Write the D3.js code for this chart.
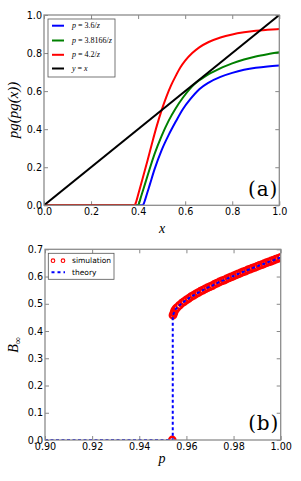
<!DOCTYPE html>
<html>
<head>
<meta charset="utf-8">
<script src="https://cdn.jsdelivr.net/npm/d3@7"></script>
<style>
  body { margin: 0; background: #fff; }
  svg { display: block; }
  .tick text { font-family: 'DejaVu Sans', sans-serif; font-size: 9.6px; fill: #000; }
  .tick line { stroke: #888; stroke-width: 1; }
  .domain { display: none; }
</style>
</head>
<body>
<div id="chart"></div>
<script>
// panel (a) ticks
const xTicksA = [0, 0.2, 0.4, 0.6, 0.8, 1.0]
const yTicksA = [0, 0.2, 0.4, 0.6, 0.8, 1.0]

// panel (a) curves
const blueX = [0, 0.42, 0.425, 0.43, 0.44, 0.45, 0.47, 0.50, 0.53, 0.56, 0.59, 0.62, 0.66, 0.70, 0.75, 0.80, 0.85, 0.90, 0.95, 1.00]
const blueY = [0, 0, 0.012, 0.03, 0.07, 0.11, 0.19, 0.29, 0.37, 0.44, 0.505, 0.555, 0.61, 0.645, 0.675, 0.696, 0.712, 0.723, 0.730, 0.734]

const greenX = [0, 0.40, 0.405, 0.41, 0.42, 0.43, 0.44, 0.45, 0.47, 0.50, 0.53, 0.56, 0.59, 0.62, 0.64, 0.66, 0.68, 0.70, 0.73, 0.76, 0.80, 0.85, 0.90, 0.95, 1.00]
const greenY = [0, 0, 0.014, 0.035, 0.075, 0.115, 0.155, 0.195, 0.27, 0.365, 0.445, 0.51, 0.565, 0.612, 0.637, 0.657, 0.674, 0.689, 0.708, 0.726, 0.746, 0.766, 0.782, 0.794, 0.804]

const redX = [0, 0.385, 0.392, 0.40, 0.42, 0.44, 0.46, 0.48, 0.50, 0.52, 0.54, 0.56, 0.58, 0.60, 0.63, 0.66, 0.70, 0.75, 0.80, 0.85, 0.90, 0.95, 1.00]
const redY = [0, 0, 0.02, 0.055, 0.145, 0.235, 0.33, 0.42, 0.50, 0.57, 0.63, 0.68, 0.725, 0.76, 0.80, 0.83, 0.858, 0.882, 0.898, 0.909, 0.917, 0.922, 0.926]

const diagX = [0, 1]
const diagY = [0, 1]

// panel (b) ticks
const xTicksB = [0.90, 0.92, 0.94, 0.96, 0.98, 1.00]
const yTicksB = [0, 0.1, 0.2, 0.3, 0.4, 0.5, 0.6, 0.7]

// simulation points
const simP = [0.954, 0.9543, 0.9547, 0.955, 0.9555, 0.956, 0.957, 0.958, 0.959, 0.960, 0.961, 0.962, 0.963, 0.964,
  0.965, 0.966, 0.967, 0.968, 0.969, 0.970, 0.971, 0.972, 0.973, 0.974, 0.975, 0.976,
  0.977, 0.978, 0.979, 0.980, 0.981, 0.982, 0.983, 0.984, 0.985, 0.986, 0.987, 0.988,
  0.989, 0.990, 0.991, 0.992, 0.993, 0.994, 0.995, 0.996, 0.997, 0.998, 0.999, 1.000]
const simB = [0, 0.458, 0.467, 0.475, 0.481, 0.486, 0.494, 0.502, 0.508, 0.514, 0.520, 0.526, 0.531, 0.536,
  0.541, 0.546, 0.550, 0.555, 0.559, 0.563, 0.567, 0.572, 0.576, 0.580, 0.584, 0.587,
  0.591, 0.595, 0.599, 0.602, 0.606, 0.610, 0.613, 0.617, 0.620, 0.624, 0.627, 0.631,
  0.634, 0.637, 0.641, 0.644, 0.647, 0.651, 0.654, 0.657, 0.660, 0.664, 0.667, 0.670]

// theory line: zero branch, jump at p_c, then upper branch
const theoryP = [0.90, 0.9542, 0.9542].concat(simP.slice(1))
const theoryB = [0, 0, 0.455].concat(simB.slice(1))

const W = 301
const H = 481

const svg = d3.select('#chart').append('svg')
  .attr('width', W)
  .attr('height', H)

const frameColor = '#8c8c8c'

function panel (box, xDomain, yDomain, xTicks, yTicks, xFmt, yFmt, id) {
  const x = d3.scaleLinear().domain(xDomain).range([box.left, box.right])
  const y = d3.scaleLinear().domain(yDomain).range([box.bottom, box.top])

  svg.append('clipPath').attr('id', id)
    .append('rect')
    .attr('x', box.left).attr('y', box.top)
    .attr('width', box.right - box.left).attr('height', box.bottom - box.top)

  svg.append('g')
    .attr('transform', 'translate(0,' + box.bottom + ')')
    .call(d3.axisBottom(x).tickValues(xTicks).tickFormat(d3.format(xFmt)).tickSizeInner(-4).tickSizeOuter(0).tickPadding(3))
  svg.append('g')
    .attr('transform', 'translate(0,' + box.top + ')')
    .call(d3.axisTop(x).tickValues(xTicks).tickFormat('').tickSizeInner(-4).tickSizeOuter(0))
  svg.append('g')
    .attr('transform', 'translate(' + box.left + ',0)')
    .call(d3.axisLeft(y).tickValues(yTicks).tickFormat(d3.format(yFmt)).tickSizeInner(-4).tickSizeOuter(0).tickPadding(2))
  svg.append('g')
    .attr('transform', 'translate(' + box.right + ',0)')
    .call(d3.axisRight(y).tickValues(yTicks).tickFormat('').tickSizeInner(-4).tickSizeOuter(0))

  const plot = svg.append('g').attr('clip-path', 'url(#' + id + ')')
  return { x, y, plot }
}

function frame (box) {
  svg.append('rect')
    .attr('x', box.left).attr('y', box.top)
    .attr('width', box.right - box.left).attr('height', box.bottom - box.top)
    .attr('fill', 'none')
    .attr('stroke', frameColor)
    .attr('stroke-width', 1.3)
}

// ---------- panel (a) ----------
const boxA = { left: 44, right: 279.3, top: 15, bottom: 205.3 }
const a = panel(boxA, [0, 1], [0, 1], xTicksA, yTicksA, '.1f', '.1f', 'clipA')

const seriesA = [
  { xs: blueX, ys: blueY, color: '#0000ff' },
  { xs: greenX, ys: greenY, color: '#008000' },
  { xs: redX, ys: redY, color: '#ff0000' },
  { xs: diagX, ys: diagY, color: '#000000' }
]

const lineA = d3.line()
  .x(d => a.x(d[0]))
  .y(d => a.y(d[1]))
  .curve(d3.curveMonotoneX)

seriesA.forEach(s => {
  a.plot.append('path')
    .datum(d3.zip(s.xs, s.ys))
    .attr('d', lineA)
    .attr('fill', 'none')
    .attr('stroke', s.color)
    .attr('stroke-width', 2)
})

frame(boxA)

// legend (a)
const legA = svg.append('g')
legA.append('rect')
  .attr('x', 48).attr('y', 19).attr('width', 67).attr('height', 58)
  .attr('fill', '#fff').attr('stroke', '#555').attr('stroke-width', 0.8)

const legendA = [
  { label: ['p', ' = 3.6/', 'z'], color: '#0000ff' },
  { label: ['p', ' = 3.8166/', 'z'], color: '#008000' },
  { label: ['p', ' = 4.2/', 'z'], color: '#ff0000' },
  { label: ['y', ' = ', 'x'], color: '#000000' }
]
const legAy = [25.7, 40.5, 54.8, 68.5]
legendA.forEach((d, i) => {
  legA.append('line')
    .attr('x1', 52).attr('x2', 64)
    .attr('y1', legAy[i]).attr('y2', legAy[i])
    .attr('stroke', d.color).attr('stroke-width', 2)
  const t = legA.append('text')
    .attr('x', 72).attr('y', legAy[i]).attr('dy', '0.33em')
    .style('font-family', "'Liberation Serif', serif")
    .style('font-size', '8px')
  d.label.forEach((part, j) => {
    t.append('tspan').text(part).style('font-style', j === 1 ? 'normal' : 'italic')
  })
})

svg.append('text')
  .attr('x', 278).attr('y', 196)
  .attr('text-anchor', 'end')
  .style('font-family', "'DejaVu Serif', serif")
  .style('font-size', '20px')
  .style('letter-spacing', '0.8px')
  .text('(a)')

svg.append('text')
  .attr('x', 162).attr('y', 233)
  .attr('text-anchor', 'middle')
  .style('font-family', "'Liberation Serif', serif")
  .style('font-style', 'italic')
  .style('font-size', '14px')
  .text('x')

svg.append('text')
  .attr('transform', 'translate(18,110) rotate(-90)')
  .attr('text-anchor', 'middle')
  .style('font-family', "'Liberation Serif', serif")
  .style('font-style', 'italic')
  .style('font-size', '15px')
  .text('pg(pg(x))')

// ---------- panel (b) ----------
const boxB = { left: 45, right: 280.7, top: 249.3, bottom: 440 }
const b = panel(boxB, [0.90, 1.00], [0, 0.7], xTicksB, yTicksB, '.2f', '.1f', 'clipB')

b.plot.selectAll('circle')
  .data(d3.zip(simP, simB))
  .enter()
  .append('circle')
  .attr('cx', d => b.x(d[0]))
  .attr('cy', d => b.y(d[1]))
  .attr('r', 3.2)
  .attr('fill', '#fff')
  .attr('stroke', '#ff0000')
  .attr('stroke-width', 2.4)

const lineB = d3.line()
  .x(d => b.x(d[0]))
  .y(d => b.y(d[1]))

b.plot.append('path')
  .datum(d3.zip(theoryP, theoryB))
  .attr('d', lineB)
  .attr('fill', 'none')
  .attr('stroke', '#0000ff')
  .attr('stroke-width', 2)
  .attr('stroke-dasharray', '3,2.5')

frame(boxB)

// legend (b)
const legB = svg.append('g')
legB.append('rect')
  .attr('x', 48.3).attr('y', 253.3).attr('width', 65.7).attr('height', 26)
  .attr('fill', '#fff').attr('stroke', '#555').attr('stroke-width', 0.8)
;[53, 63].forEach(cx => {
  legB.append('circle')
    .attr('cx', cx).attr('cy', 260.7).attr('r', 1.8)
    .attr('fill', '#fff').attr('stroke', '#ff0000').attr('stroke-width', 1.1)
})
legB.append('line')
  .attr('x1', 51.5).attr('x2', 65).attr('y1', 272.3).attr('y2', 272.3)
  .attr('stroke', '#0000ff').attr('stroke-width', 2).attr('stroke-dasharray', '3,3')
;[['simulation', 260.7], ['theory', 272.3]].forEach(d => {
  legB.append('text')
    .attr('x', 72).attr('y', d[1]).attr('dy', '0.35em')
    .style('font-family', "'DejaVu Sans', sans-serif")
    .style('font-size', '7.5px')
    .text(d[0])
})

svg.append('text')
  .attr('x', 279).attr('y', 430)
  .attr('text-anchor', 'end')
  .style('font-family', "'DejaVu Serif', serif")
  .style('font-size', '20px')
  .style('letter-spacing', '0.8px')
  .text('(b)')

svg.append('text')
  .attr('x', 162).attr('y', 463)
  .attr('text-anchor', 'middle')
  .style('font-family', "'Liberation Serif', serif")
  .style('font-style', 'italic')
  .style('font-size', '14px')
  .text('p')

const bLab = svg.append('text')
  .attr('transform', 'translate(18,345) rotate(-90)')
  .attr('text-anchor', 'middle')
  .style('font-family', "'Liberation Serif', serif")
  .style('font-size', '14px')
bLab.append('tspan').style('font-style', 'italic').text('B')
bLab.append('tspan').attr('dy', 3).style('font-size', '10px').text('∞')
</script>
</body>
</html>
